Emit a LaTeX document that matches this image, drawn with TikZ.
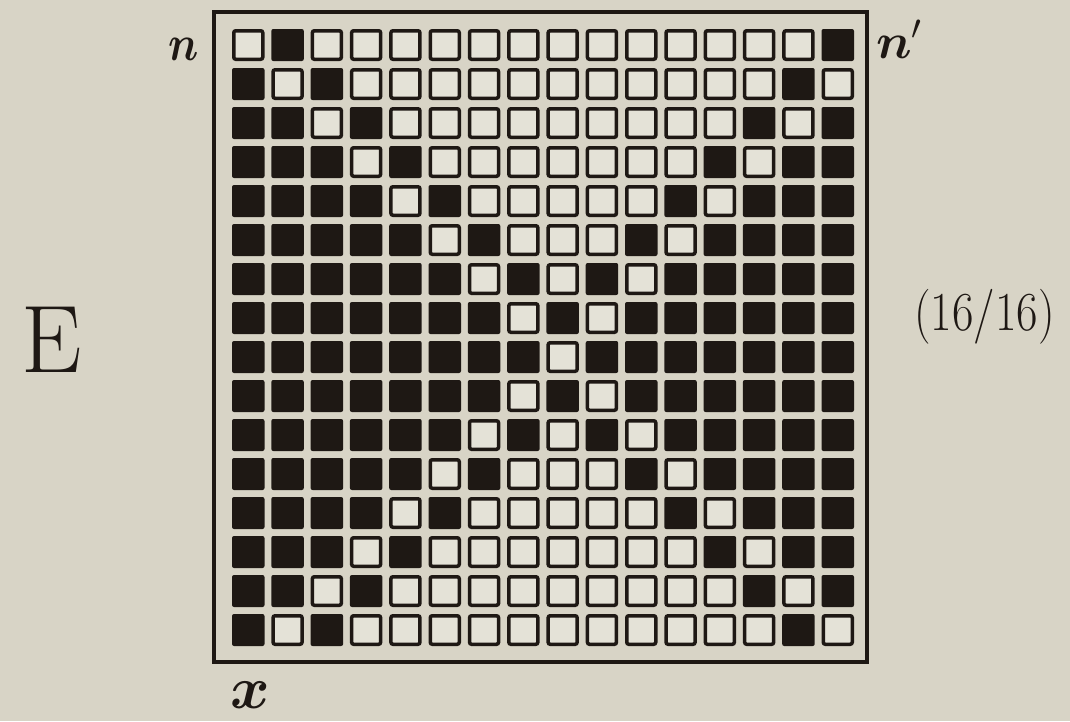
\RequirePackage{fix-cm}
\documentclass[tikz,border=0pt]{standalone}
\usepackage{amsmath}
\usepackage{graphicx}
\definecolor{paper}{RGB}{216,212,198}
\definecolor{cellw}{RGB}{228,226,215}
\definecolor{ink}{RGB}{30,24,20}
\tikzset{
  blackcell/.style={fill=ink, rounded corners=2pt},
  whitecell/.style={draw=ink, line width=3.5pt, fill=cellw, rounded corners=2pt},
  frame/.style={draw=ink, line width=4pt},
  lbl/.style={text=ink, inner sep=0pt}
}
\begin{document}
\begin{tikzpicture}[x=1pt,y=-1pt]
\useasboundingbox (0,0) rectangle (1070,721);
\fill[paper] (0,0) rectangle (1070,721);
\draw[frame] (214,12) rectangle (867,662);
\foreach \row [count=\r from 0] in {
 {0,1,0,0,0,0,0,0,0,0,0,0,0,0,0,1},
 {1,0,1,0,0,0,0,0,0,0,0,0,0,0,1,0},
 {1,1,0,1,0,0,0,0,0,0,0,0,0,1,0,1},
 {1,1,1,0,1,0,0,0,0,0,0,0,1,0,1,1},
 {1,1,1,1,0,1,0,0,0,0,0,1,0,1,1,1},
 {1,1,1,1,1,0,1,0,0,0,1,0,1,1,1,1},
 {1,1,1,1,1,1,0,1,0,1,0,1,1,1,1,1},
 {1,1,1,1,1,1,1,0,1,0,1,1,1,1,1,1},
 {1,1,1,1,1,1,1,1,0,1,1,1,1,1,1,1},
 {1,1,1,1,1,1,1,0,1,0,1,1,1,1,1,1},
 {1,1,1,1,1,1,0,1,0,1,0,1,1,1,1,1},
 {1,1,1,1,1,0,1,0,0,0,1,0,1,1,1,1},
 {1,1,1,1,0,1,0,0,0,0,0,1,0,1,1,1},
 {1,1,1,0,1,0,0,0,0,0,0,0,1,0,1,1},
 {1,1,0,1,0,0,0,0,0,0,0,0,0,1,0,1},
 {1,0,1,0,0,0,0,0,0,0,0,0,0,0,1,0}}
{
  \foreach \v [count=\c from 0] in \row {
    \pgfmathsetmacro\xl{232+\c*39.3}
    \pgfmathsetmacro\yt{29+\r*39.0}
    \ifnum\v=1
      \path[blackcell] (\xl,\yt) rectangle ++(32.5,32);
    \else
      \path[whitecell] (\xl+1.75,\yt+1.75) rectangle ++(29,28.5);
    \fi
  }
}
\node[lbl, anchor=base] (nl) at (184,60) {\fontsize{50}{50}\selectfont\scalebox{0.85}[1]{$\boldsymbol{n}$}};
\node[lbl, anchor=base west] (nr) at (876,58) {\fontsize{50}{50}\selectfont$\boldsymbol{n}'$};
\node[lbl, anchor=base] (xl) at (250,708) {\fontsize{60}{60}\selectfont$\boldsymbol{x}$};
\node[lbl, anchor=base] (E) at (52,372) {\fontsize{96}{96}\selectfont E};
\node[lbl, anchor=base west] (frac) at (914,330) {\fontsize{55}{55}\selectfont\scalebox{0.85}[1]{(16/16)}};
\end{tikzpicture}
\end{document}
